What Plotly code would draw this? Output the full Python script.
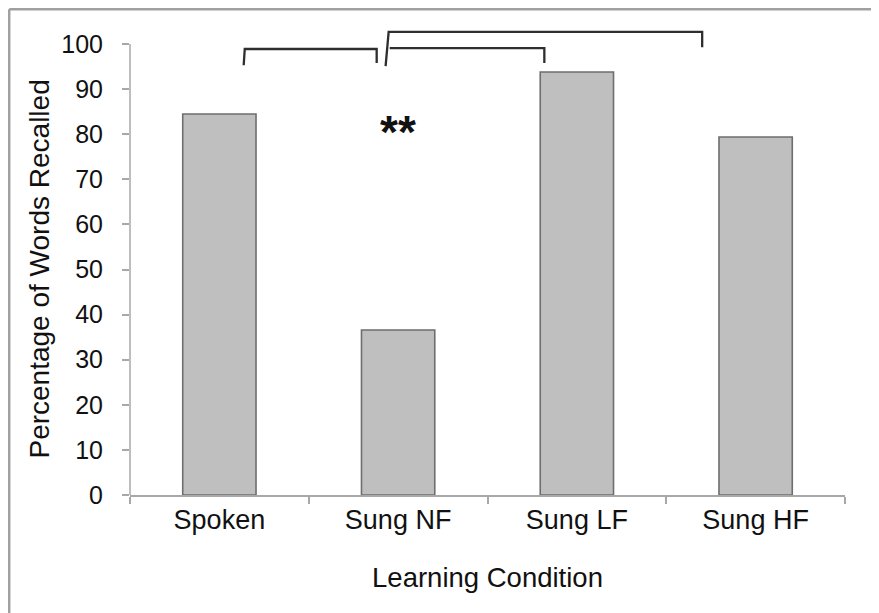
import plotly.graph_objects as go

categories = ["Spoken", "Sung NF", "Sung LF", "Sung HF"]
values = [84.5, 36.6, 93.8, 79.4]
ytick_vals = [0, 10, 20, 30, 40, 50, 60, 70, 80, 90, 100]

# significance brackets (category index, percentage)
bracket_paths = [
    [(0.136, 95.3), (0.142, 98.9), (0.880, 98.9), (0.880, 95.8)],
    [(0.930, 95.1), (0.947, 102.7), (2.701, 102.7), (2.701, 99.3)],
    [(0.953, 99.1), (1.818, 99.1), (1.818, 95.8)],
]
star_x, star_y = 1.0, 80.6

W, H = 879, 613
ML, MR, MT, MB = 122, 42, 18, 126

fig = go.Figure()
fig.add_trace(go.Bar(
    x=categories, y=values,
    width=0.41,
    marker=dict(color="#BFBFBF", line=dict(color="#6E6E6E", width=1.6)),
    hoverinfo="x+y",
))

shapes = []
for pts in bracket_paths:
    d = "M " + " L ".join(f"{x},{y}" for x, y in pts)
    shapes.append(dict(type="path", path=d, xref="x", yref="y",
                       line=dict(color="#2E2E2E", width=2.3)))
# y axis line, only from 0 to 100
shapes.append(dict(type="line", xref="paper", yref="y", x0=0, x1=0, y0=0, y1=100,
                   line=dict(color="#A8A8A8", width=1.5)))
# outer frame (left and top)
pw = W - ML - MR
ph = H - MT - MB
fx = (1.2 - ML) / pw
fy = 1 + (MT - 1.2) / ph
shapes.append(dict(type="line", xref="paper", yref="paper", x0=fx, x1=fx, y0=fy, y1=-MB / ph - 0.01,
                   line=dict(color="#A0A0A0", width=2.5)))
shapes.append(dict(type="line", xref="paper", yref="paper", x0=fx, x1=(W - ML) / pw + 0.01, y0=fy, y1=fy,
                   line=dict(color="#A0A0A0", width=2.5)))

fig.update_layout(
    width=W, height=H,
    margin=dict(l=ML, r=MR, t=MT, b=MB),
    paper_bgcolor="white", plot_bgcolor="white",
    font=dict(family="Liberation Sans, Arial, sans-serif", color="#111111"),
    showlegend=False,
    shapes=shapes,
    annotations=[
        dict(x=star_x, y=star_y, xref="x", yref="y", text="<b>**</b>",
             showarrow=False, font=dict(size=46, color="#111111")),
        dict(x=0, y=50, xref="paper", yref="y", text="Percentage of Words Recalled",
             textangle=-90, showarrow=False, xanchor="center", yanchor="middle",
             xshift=-(ML - 32), font=dict(size=28, color="#111111")),
    ],
    xaxis=dict(
        type="category", range=[-0.5, 3.5],
        showline=True, linecolor="#A8A8A8", linewidth=1.5,
        ticks="outside", tickson="boundaries", ticklen=7, tickcolor="#A8A8A8", tickwidth=1.5,
        tickfont=dict(size=27), showgrid=False,
        title=dict(text="Learning Condition", font=dict(size=27.5), standoff=34),
    ),
    yaxis=dict(
        range=[0, 104], showline=False, zeroline=False, showgrid=False,
        tickvals=ytick_vals, ticks="outside", ticklen=7, tickcolor="#A8A8A8", tickwidth=1.5,
        tickfont=dict(size=25), ticklabelstandoff=14,
    ),
)

fig.write_html("out.html")
